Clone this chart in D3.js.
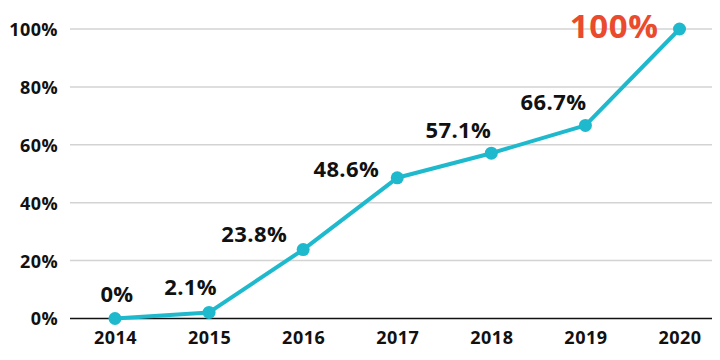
<!DOCTYPE html>
<html><head><meta charset="utf-8">
<script src="https://cdn.jsdelivr.net/npm/d3@7/dist/d3.min.js"></script>
<style>
html,body{margin:0;padding:0;background:#fff;}
text{font-family:"Open Sans","Noto Sans",sans-serif;font-weight:700;}
</style></head>
<body><svg id="chart" width="720" height="360"></svg>
<script>
const years = ["2014","2015","2016","2017","2018","2019","2020"];
const values = [0, 2.1, 23.8, 48.6, 57.1, 66.7, 100];
const valueLabels = ["0%","2.1%","23.8%","48.6%","57.1%","66.7%","100%"];
const yTicks = [0, 20, 40, 60, 80, 100];

// label placement nudges (layout only)
const labelNudge = [
  {dx: 2, dy: -17, anchor: "middle"},
  {dx: 8, dy: -17, anchor: "end"},
  {dx: -16, dy: -8, anchor: "end"},
  {dx: -18, dy: -1, anchor: "end"},
  {dx: 0, dy: -15, anchor: "end"},
  {dx: 1, dy: -15, anchor: "end"},
  {dx: -21, dy: 9, anchor: "end"}
];

const svg = d3.select("#chart");
const gridLeft = 70, gridRight = 712;
const x = d3.scalePoint().domain(years).range([115, 679.5]);
const y = d3.scaleLinear().domain([0, 100]).range([318.5, 29]);

svg.append("g").selectAll("line").data(yTicks.filter(d => d > 0)).join("line")
  .attr("x1", gridLeft).attr("x2", gridRight)
  .attr("y1", d => y(d)).attr("y2", d => y(d))
  .attr("stroke", "#d3d3d3").attr("stroke-width", 1.5);

const yAxis = d3.axisLeft(y).tickValues(yTicks).tickFormat(d => d + "%").tickSize(0).tickPadding(0);
const gy = svg.append("g").attr("transform", `translate(58,0)`).call(yAxis);
gy.select(".domain").remove();
gy.selectAll("text").attr("font-size", 18).attr("fill", "#111").attr("dy", "0.36em")
  .style("letter-spacing", "0.4px")
  .style("font-family", '"Open Sans","Noto Sans",sans-serif').style("font-weight", 700);

svg.append("line").attr("x1", gridLeft).attr("x2", gridRight)
  .attr("y1", y(0)).attr("y2", y(0)).attr("stroke", "#111").attr("stroke-width", 1.6);

const xAxis = d3.axisBottom(x).tickSize(0).tickPadding(0);
const gx = svg.append("g").attr("transform", `translate(0,${y(0)})`).call(xAxis);
gx.select(".domain").remove();
gx.selectAll("text").attr("font-size", 18).attr("fill", "#111").attr("y", 25.5).attr("dy", 0)
  .style("letter-spacing", "0.5px")
  .style("font-family", '"Open Sans","Noto Sans",sans-serif').style("font-weight", 700);

const pts = years.map((yr, i) => ({yr, v: values[i], lab: valueLabels[i], n: labelNudge[i], i}));

svg.append("path").datum(pts)
  .attr("d", d3.line().x(d => x(d.yr)).y(d => y(d.v)))
  .attr("fill", "none").attr("stroke", "#1fb9cd").attr("stroke-width", 4)
  .attr("stroke-linejoin", "round");

svg.append("g").selectAll("circle").data(pts).join("circle")
  .attr("cx", d => x(d.yr)).attr("cy", d => y(d.v)).attr("r", 6.5)
  .attr("fill", "#1fb9cd");

svg.append("g").selectAll("text").data(pts).join("text")
  .attr("x", d => x(d.yr) + d.n.dx).attr("y", d => y(d.v) + d.n.dy)
  .attr("text-anchor", d => d.n.anchor)
  .attr("font-size", d => d.i === pts.length - 1 ? 33 : 22)
  .style("letter-spacing", d => d.i === pts.length - 1 ? "0.6px" : "0.4px")
  .attr("fill", d => d.i === pts.length - 1 ? "#e94b2c" : "#111")
  .text(d => d.lab);
</script></body></html>
